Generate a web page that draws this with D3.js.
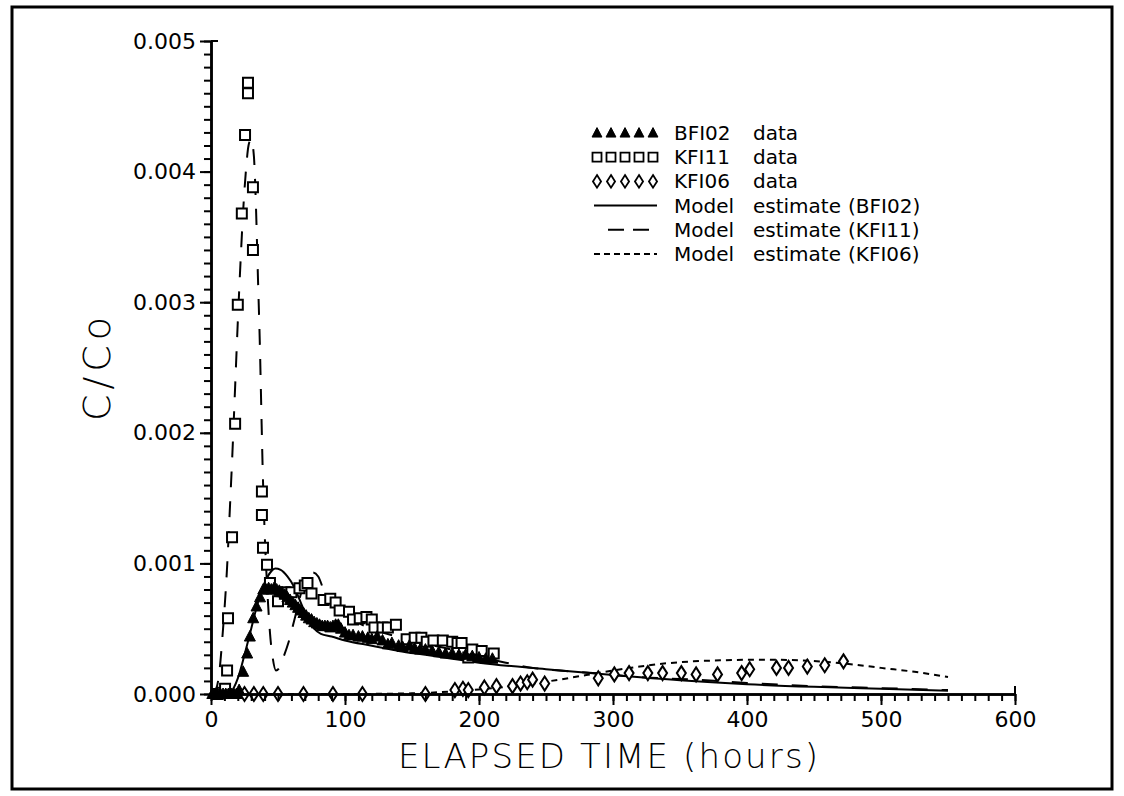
<!DOCTYPE html>
<html>
<head>
<meta charset="utf-8">
<script src="https://cdn.jsdelivr.net/npm/d3@7"></script>
<style>
  body { margin: 0; background: #fff; }
  svg { display: block; }
</style>
</head>
<body>
<svg></svg>
<script>
// hours, C/Co (x 1e-3)
let bfi02Data = [
  [1, 0], [3, 0], [5, 0], [7, 0], [9, 0], [11, 0], [13, 0], [15, 0], [17, 0], [19, 0], [21, 0.03],
  [24, 0.17], [27, 0.31], [29, 0.44], [31.5, 0.58], [34, 0.67], [36.6, 0.74], [39, 0.8],
  [41, 0.8], [43, 0.81], [45, 0.8], [47, 0.81], [49, 0.8], [51, 0.79], [53, 0.78], [55, 0.76],
  [57, 0.74], [59, 0.72], [61, 0.7], [63, 0.68], [65, 0.66], [67, 0.64], [69, 0.62], [71, 0.6],
  [73, 0.58], [75, 0.57], [77, 0.55], [79, 0.54], [81, 0.53], [83, 0.52], [85, 0.52], [87, 0.52],
  [89, 0.51], [91, 0.52], [93, 0.53], [95, 0.53], [97, 0.5], [100, 0.47], [103, 0.45], [106, 0.45],
  [110, 0.44], [113, 0.44], [117, 0.43], [120, 0.42], [124, 0.44], [128, 0.41], [132, 0.38],
  [135, 0.39], [140, 0.37], [143, 0.36], [148, 0.37], [152, 0.35], [156, 0.34], [160, 0.34],
  [165, 0.33], [170, 0.32], [175, 0.31], [180, 0.31], [185, 0.3], [190, 0.3], [195, 0.29],
  [200, 0.28], [205, 0.27], [210, 0.27]
]

let kfi11Data = [
  [5, 0], [8, 0.01], [10.5, 0.04], [12, 0.18], [12.7, 0.58], [15.7, 1.2], [18, 2.07], [20, 2.98],
  [23, 3.68], [25.4, 4.28], [27.6, 4.68], [27.6, 4.6], [31.3, 3.88], [31.3, 3.4], [38, 1.55],
  [38, 1.37], [38.8, 1.12], [41.8, 0.99], [44, 0.85], [50, 0.71], [55, 0.78], [60, 0.78],
  [66, 0.81], [70, 0.83], [72, 0.85], [75, 0.77], [84, 0.72], [89, 0.73], [93, 0.7], [96, 0.64],
  [103, 0.63], [106, 0.57], [111, 0.58], [116, 0.59], [120, 0.57], [122, 0.51], [128, 0.51],
  [132, 0.51], [138, 0.53], [146, 0.42], [152, 0.43], [157, 0.43], [161, 0.4], [166, 0.41],
  [173, 0.41], [180, 0.4], [184, 0.39], [187, 0.39], [192, 0.28], [195, 0.34], [202, 0.33],
  [211, 0.31]
]

let kfi06Data = [
  [25, 0], [32, 0], [39, 0], [50, 0], [69, 0], [91, 0], [113, 0], [160, 0], [182, 0.03],
  [188, 0.04], [192, 0.03], [204, 0.05], [213, 0.06], [225, 0.06], [231, 0.08], [236, 0.09],
  [240, 0.11], [249, 0.08], [289, 0.12], [301, 0.15], [312, 0.16], [326, 0.16], [337, 0.16],
  [351, 0.16], [362, 0.15], [378, 0.15], [396, 0.16], [402, 0.19], [422, 0.2], [431, 0.2],
  [445, 0.21], [458, 0.22], [472, 0.25]
]

let bfi02Model = [
  [0, 0], [10, 0], [15, 0.02], [20, 0.12], [25, 0.3], [30, 0.5], [35, 0.7], [40, 0.85], [45, 0.94],
  [48, 0.96], [52, 0.95], [57, 0.9], [62, 0.82], [67, 0.7], [72, 0.58], [77, 0.5], [82, 0.46],
  [90, 0.44], [100, 0.41], [120, 0.37], [140, 0.33], [160, 0.3], [180, 0.27], [200, 0.24],
  [250, 0.19], [300, 0.145], [350, 0.105], [400, 0.075], [450, 0.055], [500, 0.04], [550, 0.025]
]

let kfi11Model = [
  [0, 0], [3, 0.02], [6, 0.15], [9, 0.5], [12, 0.97], [14, 1.4], [16, 1.85], [18, 2.35], [20, 2.85],
  [22, 3.3], [24, 3.7], [26, 4.0], [28, 4.2], [30, 4.25], [32, 4.12], [33.5, 3.75], [35, 3.2],
  [36.5, 2.66], [37.5, 2.2], [38.5, 1.75], [40, 1.25], [42, 0.8], [44, 0.47], [46, 0.28],
  [48.5, 0.18], [51, 0.2], [54, 0.28], [58, 0.4], [63, 0.6], [68, 0.8], [72, 0.9], [76, 0.93],
  [80, 0.9], [84, 0.8], [88, 0.72], [95, 0.64], [105, 0.57], [120, 0.5], [150, 0.41], [180, 0.34],
  [200, 0.29], [220, 0.24], [240, 0.2], [260, 0.18], [285, 0.16], [320, 0.13], [360, 0.11],
  [400, 0.085], [450, 0.06], [500, 0.045], [550, 0.03]
]

let kfi06Model = [
  [0, 0], [100, 0], [150, 0.005], [180, 0.02], [200, 0.035], [220, 0.055], [240, 0.08],
  [260, 0.11], [280, 0.145], [300, 0.18], [320, 0.21], [340, 0.235], [360, 0.25], [380, 0.258],
  [400, 0.262], [420, 0.262], [440, 0.258], [460, 0.245], [480, 0.225], [500, 0.2], [525, 0.17],
  [550, 0.13]
]

let xTicks = [0, 100, 200, 300, 400, 500, 600]
let yTicks = [0, 0.001, 0.002, 0.003, 0.004, 0.005]

let legendRows = [
  { marker: "triangle", words: ["BFI02", "data"] },
  { marker: "square", words: ["KFI11", "data"] },
  { marker: "diamond", words: ["KFI06", "data"] },
  { dash: null, words: ["Model", "estimate", "(BFI02)"] },
  { dash: "16,9", words: ["Model", "estimate", "(KFI11)"] },
  { dash: "6,4", words: ["Model", "estimate", "(KFI06)"] }
]

let width = 1124
let height = 796
let font = "'DejaVu Sans', sans-serif"

let svg = d3.select("svg").attr("width", width).attr("height", height)

let xScale = d3.scaleLinear().domain([0, 600]).range([211, 1015])
let yScale = d3.scaleLinear().domain([0, 0.005]).range([694, 41])

let px = (d) => xScale(d[0])
let py = (d) => yScale(d[1] / 1000)

let markerPath = (type, cx, cy, s) => {
  s = s || 1
  if (type === "triangle") {
    return `M${cx},${cy - 6 * s}L${cx + 5.5 * s},${cy + 4.5 * s}L${cx - 5.5 * s},${cy + 4.5 * s}Z`
  } else if (type === "square") {
    return `M${cx - 5 * s},${cy - 5 * s}h${10 * s}v${10 * s}h${-10 * s}Z`
  } else {
    return `M${cx},${cy - 7 * s}L${cx + 4.5 * s},${cy}L${cx},${cy + 7 * s}L${cx - 4.5 * s},${cy}Z`
  }
}

let drawFrame = () => {
  svg.append("rect").attr("width", width).attr("height", height).attr("fill", "#fff")
  svg.append("rect")
    .attr("x", 12).attr("y", 7)
    .attr("width", 1100).attr("height", 782)
    .attr("fill", "none")
    .attr("stroke", "#000")
    .attr("stroke-width", 3)
}

let drawAxes = () => {
  let xMinor = d3.range(0, 601, 10)
  let yMinor = d3.range(0, 51).map((i) => i / 10000)

  svg.append("g")
    .attr("transform", "translate(0," + yScale(0) + ")")
    .call(d3.axisBottom(xScale).tickValues(xMinor).tickSize(7).tickSizeOuter(0).tickFormat(""))
  svg.append("g")
    .attr("transform", "translate(0," + yScale(0) + ")")
    .call(d3.axisBottom(xScale).tickValues(xTicks).tickSize(11).tickSizeOuter(0).tickPadding(6).tickFormat(d3.format("d")))

  svg.append("g")
    .attr("transform", "translate(" + xScale(0) + ",0)")
    .call(d3.axisLeft(yScale).tickValues(yMinor).tickSize(7).tickSizeOuter(0).tickFormat(""))
  svg.append("g")
    .attr("transform", "translate(" + xScale(0) + ",0)")
    .call(d3.axisLeft(yScale).tickValues(yTicks).tickSize(11).tickSizeOuter(0).tickPadding(4).tickFormat(d3.format(".3f")))

  svg.selectAll(".domain").attr("stroke-width", 2.5)
  svg.selectAll(".tick line").attr("stroke-width", 2)
  svg.selectAll(".tick text")
    .attr("font-family", font)
    .attr("font-size", 22)
    .attr("fill", "#000")

  // end ticks pointing inward
  svg.append("line")
    .attr("x1", xScale(600)).attr("x2", xScale(600))
    .attr("y1", yScale(0)).attr("y2", yScale(0) - 8)
    .attr("stroke", "#000").attr("stroke-width", 2)
  svg.append("line")
    .attr("x1", xScale(0)).attr("x2", xScale(0) + 7)
    .attr("y1", yScale(0.005)).attr("y2", yScale(0.005))
    .attr("stroke", "#000").attr("stroke-width", 2)

  svg.append("text")
    .attr("x", 398).attr("y", 768)
    .attr("font-family", font)
    .attr("font-weight", 200)
    .attr("font-size", 34)
    .attr("textLength", 420)
    .attr("lengthAdjust", "spacing")
    .text("ELAPSED TIME (hours)")

  svg.append("text")
    .attr("transform", "translate(110,369) rotate(-90)")
    .attr("text-anchor", "middle")
    .attr("font-family", font)
    .attr("font-weight", 200)
    .attr("font-size", 38)
    .attr("textLength", 104)
    .attr("lengthAdjust", "spacing")
    .text("C/Co")
}

let drawModels = () => {
  let line = d3.line().x(px).y(py).curve(d3.curveMonotoneX)
  let models = [
    { data: bfi02Model, dash: null },
    { data: kfi11Model, dash: "16,14" },
    { data: kfi06Model, dash: "6,5" }
  ]
  svg.selectAll("path.model")
    .data(models)
    .enter()
    .append("path")
    .attr("class", "model")
    .attr("d", (item) => line(item.data))
    .attr("fill", "none")
    .attr("stroke", "#000")
    .attr("stroke-width", 2)
    .attr("stroke-dasharray", (item) => item.dash)
}

let drawPoints = () => {
  svg.append("g").selectAll("path")
    .data(kfi06Data)
    .enter()
    .append("path")
    .attr("d", (item) => markerPath("diamond", px(item), py(item)))
    .attr("fill", "#fff").attr("stroke", "#000").attr("stroke-width", 2)

  svg.append("g").selectAll("path")
    .data(kfi11Data)
    .enter()
    .append("path")
    .attr("d", (item) => markerPath("square", px(item), py(item)))
    .attr("fill", "#fff").attr("stroke", "#000").attr("stroke-width", 2)

  svg.append("g").selectAll("path")
    .data(bfi02Data)
    .enter()
    .append("path")
    .attr("d", (item) => markerPath("triangle", px(item), py(item)))
    .attr("fill", "#000").attr("stroke", "#000").attr("stroke-width", 1)
}

let drawLegend = () => {
  let wordX = [674, 753, 848]
  let rows = svg.append("g").selectAll("g")
    .data(legendRows)
    .enter()
    .append("g")
    .attr("transform", (item, i) => "translate(0," + (133 + i * 24.2) + ")")

  rows.each(function (item) {
    let g = d3.select(this)
    if (item.marker) {
      d3.range(5).forEach((k) => {
        g.append("path")
          .attr("d", markerPath(item.marker, 597 + k * 14, 0, 0.9))
          .attr("fill", item.marker === "triangle" ? "#000" : "#fff")
          .attr("stroke", "#000")
          .attr("stroke-width", item.marker === "triangle" ? 1 : 1.8)
      })
    } else {
      g.append("line")
        .attr("x1", item.dash === "16,9" ? 608 : 594).attr("x2", 657)
        .attr("y1", 0).attr("y2", 0)
        .attr("stroke", "#000").attr("stroke-width", 2)
        .attr("stroke-dasharray", item.dash)
    }
    g.selectAll("text")
      .data(item.words)
      .enter()
      .append("text")
      .attr("x", (w, i) => wordX[i])
      .attr("y", 7)
      .attr("font-family", font)
      .attr("font-size", 20)
      .text((w) => w)
  })
}

drawFrame()
drawModels()
drawPoints()
drawAxes()
drawLegend()
</script>
</body>
</html>
